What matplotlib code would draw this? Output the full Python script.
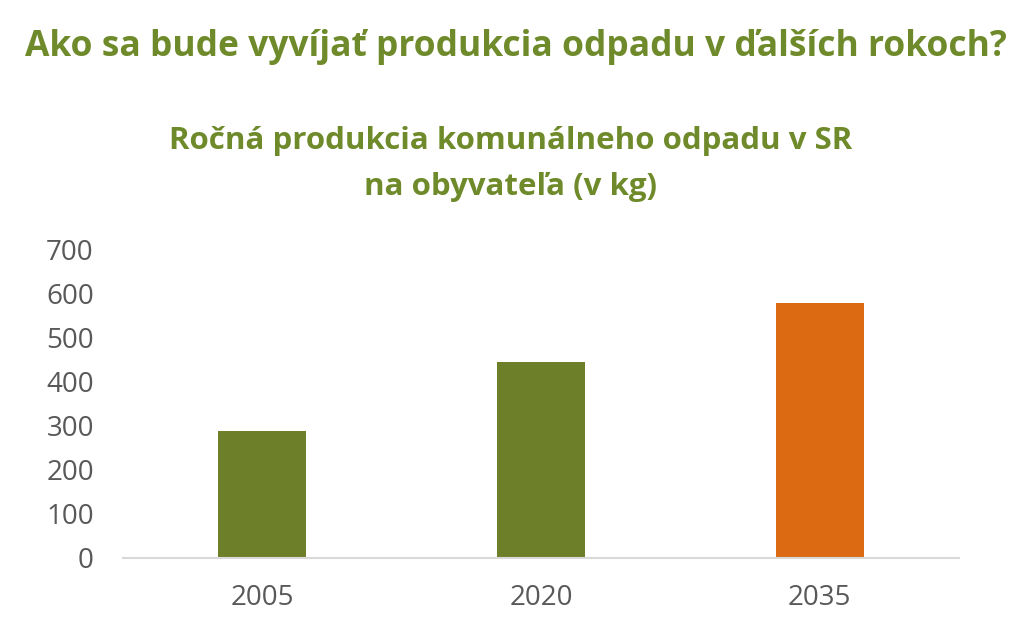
import matplotlib
matplotlib.use("Agg")
import matplotlib.pyplot as plt

years = ["2005", "2020", "2035"]
values = [288, 445, 578]
bar_colors = ["#6D8029", "#6D8029", "#DC6A12"]
yticks = [0, 100, 200, 300, 400, 500, 600, 700]

title = "Ako sa bude vyvíjať produkcia odpadu v ďalších rokoch?"
subtitle_1 = "Ročná produkcia komunálneho odpadu v SR"
subtitle_2 = "na obyvateľa (v kg)"

plt.rcParams['font.family'] = ['Open Sans', 'DejaVu Sans']

fig = plt.figure(figsize=(10.24, 6.42), dpi=100)
ax = fig.add_axes([123/1024, 1-558/642, (959-123)/1024, (558-249)/642])

x = list(range(len(years)))
ax.bar(x, values, width=0.315, color=bar_colors, zorder=2)
ax.set_xlim(-0.5, 2.5)
ax.set_ylim(0, 700)
ax.set_xticks(x)
ax.set_xticklabels(years)
ax.set_yticks(yticks)
ax.tick_params(axis='both', length=0, labelsize=20, colors="#595959")
ax.tick_params(axis='y', pad=21)
ax.tick_params(axis='x', pad=19)
for s in ["top", "right", "left"]:
    ax.spines[s].set_visible(False)
ax.spines["bottom"].set_color("#D9D9D9")
ax.spines["bottom"].set_linewidth(1.5)

fig.text(516/1024, 1-47/642, title, ha="center", va="center",
         fontsize=25.5, fontweight="bold", color="#6E8A2A")
fig.text(511/1024, 1-141/642, subtitle_1, ha="center", va="center",
         fontsize=22.5, fontweight="bold", color="#6E8A2A")
fig.text(511/1024, 1-187/642, subtitle_2, ha="center", va="center",
         fontsize=22.5, fontweight="bold", color="#6E8A2A")

fig.savefig("out.png", dpi=100)
